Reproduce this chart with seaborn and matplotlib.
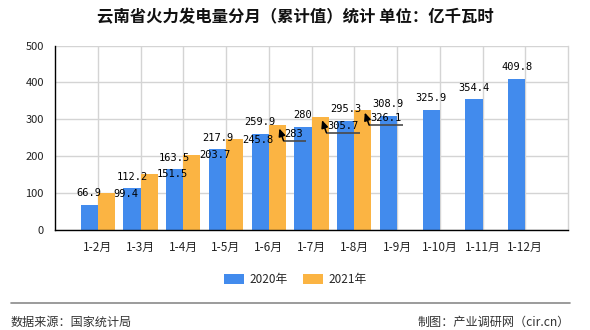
import numpy as np
import pandas as pd
import matplotlib
matplotlib.use("Agg")
import matplotlib.pyplot as plt
import seaborn as sns
from matplotlib.lines import Line2D
from matplotlib.patches import Patch

# ---------------- data ----------------
categories = ["1-2月", "1-3月", "1-4月", "1-5月", "1-6月", "1-7月",
              "1-8月", "1-9月", "1-10月", "1-11月", "1-12月"]
values_2020 = [66.9, 112.2, 163.5, 217.9, 259.9, 280, 295.3, 308.9, 325.9, 354.4, 409.8]
values_2021 = [99.4, 151.5, 203.7, 245.8, 283, 305.7, 326.1, np.nan, np.nan, np.nan, np.nan]
series_names = ["2020年", "2021年"]
y_ticks = [0, 100, 200, 300, 400, 500]
title_text = "云南省火力发电量分月（累计值）统计 单位：亿千瓦时"
source_left = "数据来源：国家统计局"
source_right = "制图：产业调研网（cir.cn）"
leader_label_idx = [4, 5, 6]   # 2021 labels drawn with a leader line

# ---------------- style ----------------
BLUE = "#428bed"
ORANGE = "#fbb443"
GRID = "#d4d4d4"

sns.set_style("white")
plt.rcParams["font.family"] = ["Noto Sans CJK SC", "DejaVu Sans"]

W, H = 590, 330
fig = plt.figure(figsize=(W / 100, H / 100), dpi=100)
L, R, T, B = 55, 568, 45.7, 229.5
ax = fig.add_axes([L / W, 1 - B / H, (R - L) / W, (B - T) / H])

df = pd.DataFrame({
    "month": categories * 2,
    "value": list(values_2020) + list(values_2021),
    "year": [series_names[0]] * len(categories) + [series_names[1]] * len(categories),
})
sns.barplot(data=df, x="month", y="value", hue="year", palette=[BLUE, ORANGE],
            saturation=1, width=0.8, errorbar=None, legend=False, ax=ax, zorder=2,
            edgecolor="none", linewidth=0)

n = len(categories)
ax.set_xlim(-1, n)
ax.set_ylim(0, 500)
ax.set_xlabel("")
ax.set_ylabel("")

ax.set_yticks(y_ticks)
ax.set_yticklabels([str(v) for v in y_ticks], fontsize=8, color="#222")
ax.set_xticks(range(n))
ax.set_xticklabels(categories, fontsize=8.5, color="#222")
ax.set_xticks([-1, n], minor=True)
ax.tick_params(axis="x", which="both", direction="out", length=5, width=1, color="black", pad=3)
ax.tick_params(axis="y", which="major", direction="out", length=6, width=1, color="black", pad=2)
ax.tick_params(axis="x", which="minor", labelbottom=False)

ax.grid(True, axis="both", which="major", color=GRID, linewidth=1, zorder=0)
ax.set_axisbelow(True)
ax.spines["top"].set_visible(False)
ax.spines["right"].set_color(GRID)
ax.spines["right"].set_linewidth(1)
ax.spines["left"].set_color("black")
ax.spines["bottom"].set_color("black")
ax.spines["left"].set_linewidth(1)
ax.spines["bottom"].set_linewidth(1)

# px -> data conversion
ux = (n + 1) / (R - L)
uy = 500 / (B - T)

lab_font = dict(family="DejaVu Sans Mono", fontsize=7.5, color="black", zorder=5)

# 2020 labels: centered above the bar
for i, v in enumerate(values_2020):
    ax.text(i - 0.2, v + 8.5 * uy, f"{v:g}", ha="center", va="baseline", **lab_font)

# 2021 labels: to the right of the bar top, some with leader lines
for i, v in enumerate(values_2021):
    if np.isnan(v):
        continue
    txt = f"{v:g}"
    if i in leader_label_idx:
        tipx = i + 0.2 + 2 * ux
        tipy = v - 3 * uy
        kx = tipx + 4.3 * ux
        ky = tipy - 12.4 * uy
        tw = 5.8 * len(txt)
        ex = kx + (1 + tw + 4) * ux
        ax.plot([kx, ex], [ky, ky], color="#4a4a4a", lw=1.2, zorder=5, solid_capstyle="butt")
        ax.annotate("", xy=(tipx, tipy), xytext=(kx, ky),
                    arrowprops=dict(arrowstyle="-|>,head_length=0.45,head_width=0.2",
                                    color="black", lw=1.1, shrinkA=0, shrinkB=0), zorder=5)
        ax.text(kx + 1 * ux, ky + 4 * uy, txt, ha="left", va="baseline", **lab_font)
    else:
        ax.text(i + 0.4 - 1 * ux, v - 3.6 * uy, txt, ha="left", va="baseline", **lab_font)

# title
fig.text(0.5, 1 - 17 / H, title_text, ha="center", va="center", fontsize=11.8,
         fontweight="bold", color="#111")

# legend
handles = [Patch(facecolor=BLUE, edgecolor="none"), Patch(facecolor=ORANGE, edgecolor="none")]
fig.legend(handles, series_names, loc="center", bbox_to_anchor=(0.5, 1 - 279.5 / H),
           ncol=2, frameon=False, fontsize=8.5, handlelength=1.7, handleheight=0.85,
           handletextpad=0.45, columnspacing=1.3, borderpad=0, borderaxespad=0)

# footer
fig.add_artist(Line2D([10.5 / W, 570 / W], [1 - 303.2 / H, 1 - 303.2 / H],
                      color="#8a8a8a", lw=1.2, transform=fig.transFigure))
fig.text(11 / W, 1 - 322.5 / H, source_left, ha="left", va="center", fontsize=8.7, color="#333")
fig.text(570 / W, 1 - 322.5 / H, source_right, ha="right", va="center", fontsize=8.7, color="#333")

fig.savefig("out.png", dpi=100)
